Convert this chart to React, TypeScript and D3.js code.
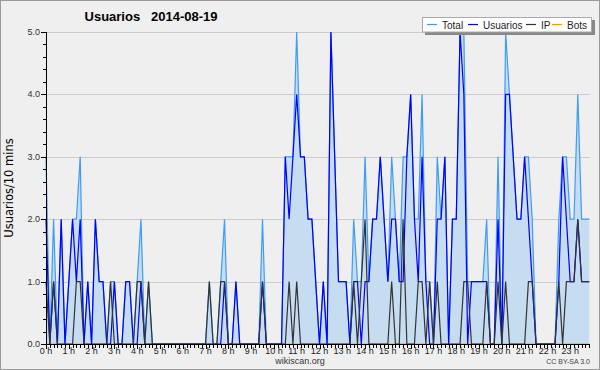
import React, { useEffect, useRef } from 'react';
import * as d3 from 'd3';

// 10-minute buckets, 144 per day
const usuarios = [
  2, 0, 1, 0, 2, 0, 1, 2, 1, 2, 0, 1, 0, 2, 1, 1, 0, 0, 1, 0, 0, 1, 1, 0,
  0, 1, 0, 0, 0, 0, 0, 0, 0, 0, 0, 0, 0, 0, 0, 0, 0, 0, 0, 0, 0, 0, 0, 1,
  0, 0, 1, 0, 0, 0, 0, 0, 0, 1, 0, 0, 0, 0, 0, 3, 2, 3, 4, 3, 3, 2, 2, 1,
  0, 1, 0, 5, 3, 1, 1, 1, 0, 1, 1, 0, 1, 1, 2, 2, 3, 2, 1, 2, 2, 1, 1, 3,
  4, 2, 1, 3, 1, 0, 0, 2, 2, 3, 0, 2, 2, 5, 4, 0, 1, 1, 1, 1, 1, 0, 0, 2,
  0, 4, 4, 3, 2, 2, 3, 2, 1, 0, 0, 0, 0, 0, 0, 1, 3, 2, 1, 1, 2, 1, 1, 1,
];
const ip = [
  1, 0, 1, 0, 0, 0, 0, 0, 1, 1, 0, 0, 0, 0, 0, 0, 0, 1, 0, 0, 0, 0, 0, 0,
  1, 1, 0, 1, 0, 0, 0, 0, 0, 0, 0, 0, 0, 0, 0, 0, 0, 0, 0, 1, 0, 0, 1, 1,
  0, 0, 0, 0, 0, 0, 0, 0, 0, 1, 0, 0, 0, 0, 0, 0, 1, 0, 1, 0, 0, 0, 0, 0,
  0, 0, 0, 0, 0, 0, 0, 0, 0, 1, 0, 1, 2, 0, 0, 0, 0, 0, 0, 1, 0, 0, 2, 0,
  0, 0, 1, 1, 0, 1, 0, 1, 0, 0, 0, 0, 0, 0, 1, 1, 0, 0, 0, 0, 1, 0, 0, 1,
  0, 1, 0, 0, 0, 0, 0, 1, 1, 0, 0, 0, 0, 0, 0, 1, 0, 1, 1, 1, 2, 1, 1, 1,
];
const total = [
  3, 0, 2, 0, 2, 0, 1, 2, 2, 3, 0, 1, 0, 2, 1, 1, 0, 1, 1, 0, 0, 1, 1, 0,
  1, 2, 0, 1, 0, 0, 0, 0, 0, 0, 0, 0, 0, 0, 0, 0, 0, 0, 0, 1, 0, 0, 1, 2,
  0, 0, 1, 0, 0, 0, 0, 0, 0, 2, 0, 0, 0, 0, 0, 3, 3, 3, 5, 3, 3, 2, 2, 1,
  0, 1, 0, 5, 3, 1, 1, 1, 0, 2, 1, 1, 3, 1, 2, 2, 3, 2, 1, 3, 2, 1, 3, 3,
  4, 2, 2, 4, 1, 1, 0, 3, 2, 3, 0, 2, 2, 5, 5, 1, 1, 1, 1, 1, 2, 0, 0, 3,
  0, 5, 4, 3, 2, 2, 3, 3, 2, 0, 0, 0, 0, 0, 0, 2, 3, 3, 2, 2, 4, 2, 2, 2,
];
const bots = new Array(144).fill(0);

const yTicks = [0, 1, 2, 3, 4, 5];
const hours = d3.range(24);

const legendItems = [
  { name: 'Total', color: '#3d9cf5', at: 427 },
  { name: 'Usuarios', color: '#0000ff', at: 468 },
  { name: 'IP', color: '#333333', at: 526 },
  { name: 'Bots', color: '#ff9900', at: 552 },
];

const W = 600;
const H = 370;
const FONT = 'Liberation Sans, Arial, sans-serif';

const App = () => {
  const ref = useRef<SVGSVGElement | null>(null);

  useEffect(() => {
    if (!ref.current) return;
    const svg = d3.select(ref.current);
    svg.selectAll('*').remove();

    const x = d3.scaleLinear().domain([0, 1440]).range([46, 593]);
    const y = d3.scaleLinear().domain([0, 5]).range([344, 32]);
    const left = 46;
    const right = 590;

    // background
    svg.append('rect').attr('x', 0.5).attr('y', 0.5).attr('width', W - 1).attr('height', H - 1)
      .attr('fill', '#efefef').attr('stroke', '#9a9a9a');

    // grid
    svg.append('g').selectAll('line').data(yTicks.slice(1)).join('line')
      .attr('x1', left).attr('x2', right)
      .attr('y1', (d) => Math.round(y(d)) + 0.5).attr('y2', (d) => Math.round(y(d)) + 0.5)
      .attr('stroke', '#cccccc');

    const pts = (arr: number[]) => arr.map((v, i) => [i * 10, v] as [number, number]);

    // total area
    svg.append('path').datum(pts(total))
      .attr('fill', '#c6ddf1')
      .attr('d', d3.area<[number, number]>().x((d) => x(d[0])).y0(y(0)).y1((d) => y(d[1])));

    const line = d3.line<[number, number]>().x((d) => x(d[0])).y((d) => y(d[1]));
    const series = [
      { data: bots, color: '#ff9900' },
      { data: total, color: '#3d9cf5' },
      { data: usuarios, color: '#0000ff' },
      { data: ip, color: '#333333' },
    ];
    series.forEach((s) => {
      svg.append('path').datum(pts(s.data))
        .attr('fill', 'none').attr('stroke', s.color).attr('stroke-width', 1.2)
        .attr('d', line);
    });

    // y axis
    const yAxis = svg.append('g').attr('font-family', FONT);
    yAxis.append('line').attr('x1', left + 0.5).attr('x2', left + 0.5).attr('y1', y(5)).attr('y2', y(0))
      .attr('stroke', '#000');
    yAxis.selectAll('line.minor').data(d3.range(0, 5.01, 0.2)).join('line').attr('class', 'minor')
      .attr('x1', (d) => (Math.abs(d - Math.round(d)) < 0.01 ? left - 5 : left - 3)).attr('x2', left)
      .attr('y1', (d) => Math.round(y(d)) + 0.5).attr('y2', (d) => Math.round(y(d)) + 0.5)
      .attr('stroke', '#000');
    yAxis.selectAll('text').data(yTicks).join('text')
      .attr('x', left - 6).attr('y', (d) => y(d) + 3)
      .attr('text-anchor', 'end').attr('font-size', 9).attr('fill', '#333')
      .text((d) => d.toFixed(1));

    // x axis
    const xAxis = svg.append('g').attr('font-family', FONT);
    xAxis.append('line').attr('x1', left).attr('x2', right).attr('y1', 344.5).attr('y2', 344.5)
      .attr('stroke', '#000');
    xAxis.selectAll('line.tick').data(d3.range(0, 1440, 10)).join('line').attr('class', 'tick')
      .attr('x1', (d) => Math.round(x(d)) + 0.5).attr('x2', (d) => Math.round(x(d)) + 0.5)
      .attr('y1', 344).attr('y2', (d) => (d % 60 === 0 ? 349 : 348))
      .attr('stroke', '#000');
    xAxis.selectAll('text').data(hours).join('text')
      .attr('x', (d) => x(d * 60)).attr('y', 354)
      .attr('text-anchor', 'middle').attr('font-size', 9).attr('fill', '#222')
      .text((d) => `${d} h`);

    // titles
    svg.append('text').attr('x', 151).attr('y', 21).attr('text-anchor', 'middle')
      .attr('font-family', FONT).attr('font-weight', 'bold').attr('font-size', 13)
      .attr('xml:space', 'preserve').text('Usuarios   2014-08-19');
    svg.append('text').attr('transform', `translate(13,${(y(0) + y(5)) / 2}) rotate(-90)`)
      .attr('text-anchor', 'middle').attr('font-family', 'DejaVu Sans, sans-serif').attr('font-size', 11.5)
      .text('Usuarios/10 mins');
    svg.append('text').attr('x', 300).attr('y', 364).attr('text-anchor', 'middle')
      .attr('font-family', FONT).attr('font-size', 9).attr('fill', '#333').text('wikiscan.org');
    svg.append('text').attr('x', 590).attr('y', 364).attr('text-anchor', 'end')
      .attr('font-family', FONT).attr('font-size', 7).attr('fill', '#444').text('CC BY-SA 3.0');

    // legend
    const lg = svg.append('g').attr('font-family', FONT);
    lg.append('rect').attr('x', 425).attr('y', 20).attr('width', 170).attr('height', 15).attr('fill', '#888');
    lg.append('rect').attr('x', 422.5).attr('y', 17.5).attr('width', 169).attr('height', 14.5)
      .attr('fill', '#fff').attr('stroke', '#aaa');
    legendItems.forEach((it) => {
      lg.append('line').attr('x1', it.at).attr('x2', it.at + 10).attr('y1', 24.5).attr('y2', 24.5)
        .attr('stroke', it.color).attr('stroke-width', 1.2);
      lg.append('text').attr('x', it.at + 15).attr('y', 28.5).attr('font-size', 10).attr('fill', '#222')
        .text(it.name);
    });
  }, []);

  return <svg ref={ref} width={W} height={H} style={{ display: 'block', position: 'absolute', left: 0, top: 0 }} />;
};

export default App;
